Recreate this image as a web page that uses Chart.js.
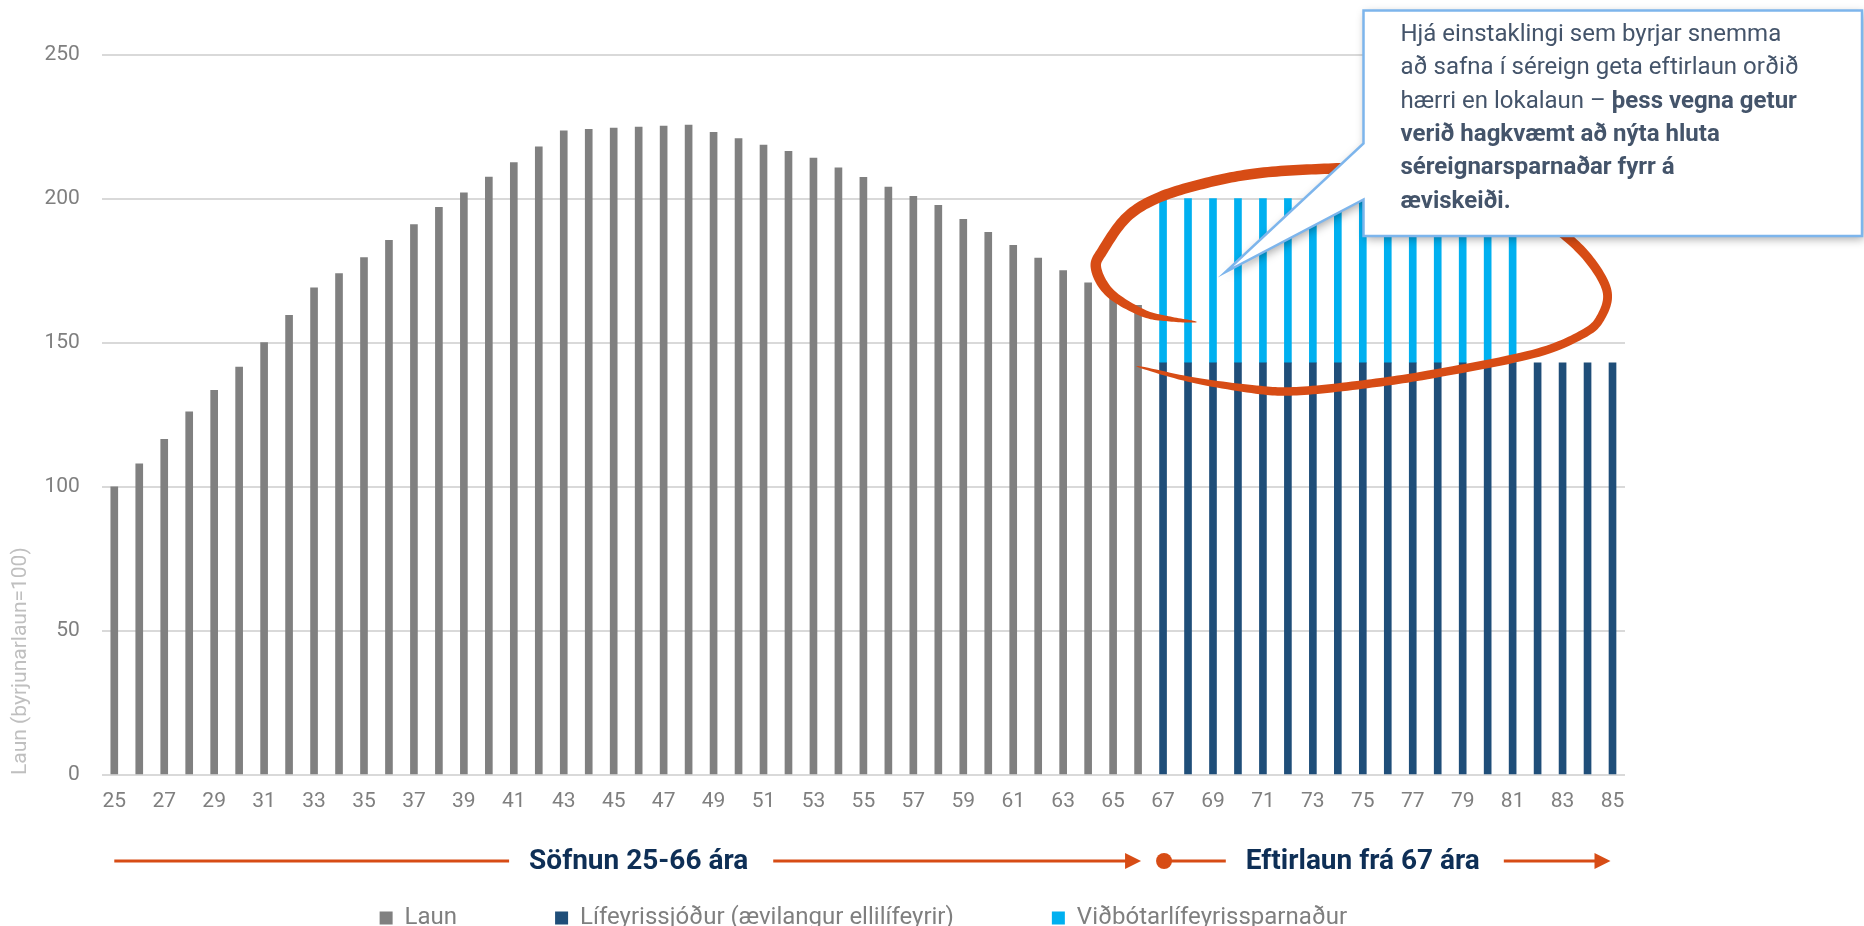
<!DOCTYPE html>
<html lang="is">
<head>
<meta charset="UTF-8">
<title>Laun og eftirlaun</title>
<script src="https://cdn.jsdelivr.net/npm/chart.js"></script>
<style>
  body { margin: 0; background: #fff; }
  #wrap { width: 1864px; height: 926px; }
</style>
</head>
<body>
<div id="wrap"><canvas id="launChart" width="1864" height="926"></canvas></div>
<script>
// Aldur (x-ás)
const ages = ['25','26','27','28','29','30','31','32','33','34','35','36','37','38','39','40',
  '41','42','43','44','45','46','47','48','49','50','51','52','53','54','55','56','57','58',
  '59','60','61','62','63','64','65','66','67','68','69','70','71','72','73','74','75','76',
  '77','78','79','80','81','82','83','84','85'];

// Laun 25-66 ára (byrjunarlaun = 100)
const laun = [100, 108, 116.5, 126, 133.5, 141.5, 150, 159.5, 169, 174, 179.5, 185.5, 191, 197,
  202, 207.5, 212.5, 218, 223.5, 224, 224.5, 224.8, 225.2, 225.5, 223, 220.8, 218.6, 216.4,
  214.1, 210.7, 207.4, 204, 200.8, 197.7, 192.8, 188.3, 183.8, 179.4, 175, 170.8, 166.8, 163,
  null, null, null, null, null, null, null, null, null, null, null, null, null, null, null,
  null, null, null, null];

// Ævilangur ellilífeyrir frá 67 ára
const lifeyrir = [null, null, null, null, null, null, null, null, null, null, null, null, null,
  null, null, null, null, null, null, null, null, null, null, null, null, null, null, null,
  null, null, null, null, null, null, null, null, null, null, null, null, null, null,
  143, 143, 143, 143, 143, 143, 143, 143, 143, 143, 143, 143, 143, 143, 143, 143, 143, 143, 143];

// Viðbótarsparnaður ofan á lífeyri, 67-81 ára
const vidbot = [null, null, null, null, null, null, null, null, null, null, null, null, null,
  null, null, null, null, null, null, null, null, null, null, null, null, null, null, null,
  null, null, null, null, null, null, null, null, null, null, null, null, null, null,
  57, 57, 57, 57, 57, 57, 57, 57, 57, 57, 57, 57, 57, 57, 57, null, null, null, null];

const yTicks = [0, 50, 100, 150, 200, 250];

const ORANGE = '#d74c15';
const NAVY = '#0e2f56';

Chart.defaults.font.family = 'Roboto, "Noto Sans", sans-serif';

// hringurinn utan um séreignina, dreginn með mismunandi línubreidd
const loopPts = [[1197,322],[1170,319],[1143,313],[1110,293],[1096,268],[1103,250],[1127,217],
  [1160,197],[1210,182],[1260,173],[1320,169],[1380,168],[1450,173],[1508,193],[1556,228],
  [1588,258],[1607,291],[1601,317],[1583,334],[1533,354],[1433,374],[1367,384],[1300,391],
  [1260,390],[1193,380],[1136,366]];

function spline(pts, steps) {
  const out = [];
  for (let i = 0; i < pts.length - 1; i++) {
    const p0 = pts[Math.max(i - 1, 0)], p1 = pts[i], p2 = pts[i + 1], p3 = pts[Math.min(i + 2, pts.length - 1)];
    for (let s = 0; s < steps; s++) {
      const t = s / steps, t2 = t * t, t3 = t2 * t;
      const f = k => 0.5 * (2 * p1[k] + (p2[k] - p0[k]) * t + (2 * p0[k] - 5 * p1[k] + 4 * p2[k] - p3[k]) * t2 + (3 * p1[k] - p0[k] - 3 * p2[k] + p3[k]) * t3);
      out.push([f(0), f(1)]);
    }
  }
  out.push(pts[pts.length - 1]);
  return out;
}

function drawLoop(ctx) {
  const c = spline(loopPts, 14);
  const n = c.length, a = [], b = [];
  for (let i = 0; i < n; i++) {
    const p = c[Math.max(i - 1, 0)], q = c[Math.min(i + 1, n - 1)];
    const len = Math.hypot(q[0] - p[0], q[1] - p[1]) || 1;
    const nx = -(q[1] - p[1]) / len, ny = (q[0] - p[0]) / len;
    const u = i / (n - 1);
    // þykkast efst til vinstri, þynnist í endana
    const base = 10.5 - 2 * Math.min(1, Math.max(0, (u - 0.45) / 0.25));
    const w = base * Math.min(1, Math.pow(u / 0.14, 0.6), Math.pow((1 - u) / 0.08, 0.6)) / 2;
    a.push([c[i][0] + nx * w, c[i][1] + ny * w]);
    b.push([c[i][0] - nx * w, c[i][1] - ny * w]);
  }
  ctx.beginPath();
  ctx.moveTo(a[0][0], a[0][1]);
  a.forEach(p => ctx.lineTo(p[0], p[1]));
  b.reverse().forEach(p => ctx.lineTo(p[0], p[1]));
  ctx.closePath();
  ctx.fillStyle = ORANGE;
  ctx.fill();
}

// textabólan efst til hægri
const noteLines = [
  [['Hjá einstaklingi sem byrjar snemma', false]],
  [['að safna í séreign geta eftirlaun orðið', false]],
  [['hærri en lokalaun – ', false], ['þess vegna getur', true]],
  [['verið hagkvæmt að nýta hluta', true]],
  [['séreignarsparnaðar fyrr á', true]],
  [['æviskeiði.', true]]
];

function drawNote(ctx) {
  const L = 1363.5, T = 10.5, R = 1862, B = 236;
  ctx.save();
  ctx.beginPath();
  ctx.moveTo(L, T);
  ctx.lineTo(R, T);
  ctx.lineTo(R, B);
  ctx.lineTo(L, B);
  ctx.lineTo(L, 199.5);
  ctx.lineTo(1225.5, 272);
  ctx.lineTo(L, 143.5);
  ctx.closePath();
  ctx.shadowColor = 'rgba(0,0,0,0.35)';
  ctx.shadowBlur = 10;
  ctx.shadowOffsetX = 2;
  ctx.shadowOffsetY = 3;
  ctx.fillStyle = '#fff';
  ctx.fill();
  ctx.shadowColor = 'transparent';
  ctx.lineWidth = 2.5;
  ctx.strokeStyle = '#7db5ec';
  ctx.stroke();

  ctx.fillStyle = '#44546a';
  ctx.textBaseline = 'alphabetic';
  noteLines.forEach((line, i) => {
    let x = 1400.5;
    const y = 41 + i * 33.3;
    line.forEach(([txt, bold]) => {
      ctx.font = (bold ? 'bold ' : '') + '24px Roboto';
      ctx.fillText(txt, x, y);
      x += ctx.measureText(txt).width;
    });
  });
  ctx.restore();
}

// örvarnar undir x-ásnum
function drawPhases(chart) {
  const ctx = chart.ctx, xs = chart.scales.x;
  const y = chart.chartArea.bottom + 86;
  const px = age => xs.getPixelForValue(ages.indexOf(age));
  ctx.save();
  ctx.strokeStyle = ORANGE;
  ctx.fillStyle = ORANGE;
  ctx.lineWidth = 3;
  const seg = (x1, x2) => { ctx.beginPath(); ctx.moveTo(x1, y); ctx.lineTo(x2, y); ctx.stroke(); };
  const head = tip => { ctx.beginPath(); ctx.moveTo(tip, y); ctx.lineTo(tip - 16, y - 8); ctx.lineTo(tip - 16, y + 8); ctx.closePath(); ctx.fill(); };

  ctx.font = 'bold 28px Roboto';
  ctx.textBaseline = 'middle';
  ctx.textAlign = 'center';
  const t1 = 'Söfnun 25-66 ára', t2 = 'Eftirlaun frá 67 ára';
  const c1 = px('46'), c2 = px('75');
  const w1 = ctx.measureText(t1).width, w2 = ctx.measureText(t2).width;

  seg(px('25'), c1 - w1 / 2 - 20);
  seg(c1 + w1 / 2 + 25, px('66') + 3 - 14);
  head(px('66') + 3);
  ctx.beginPath();
  ctx.arc(px('67') + 1, y, 8, 0, Math.PI * 2);
  ctx.fill();
  seg(px('67') + 1, c2 - w2 / 2 - 20);
  seg(c2 + w2 / 2 + 24, px('85') - 2 - 14);
  head(px('85') - 2);

  ctx.fillStyle = NAVY;
  ctx.fillText(t1, c1, y + 1);
  ctx.fillText(t2, c2, y + 1);
  ctx.restore();
}

const overlays = {
  id: 'overlays',
  afterDatasetsDraw(chart) {
    drawLoop(chart.ctx);
    drawNote(chart.ctx);
  },
  afterDraw(chart) {
    drawPhases(chart);
  }
};

new Chart(document.getElementById('launChart'), {
  type: 'bar',
  data: {
    labels: ages,
    datasets: [
      { label: 'Laun', data: laun, backgroundColor: '#808080', barThickness: 7 },
      { label: 'Lífeyrissjóður (ævilangur ellilífeyrir)', data: lifeyrir, backgroundColor: '#1f4e79', barThickness: 7 },
      { label: 'Viðbótarlífeyrissparnaður', data: vidbot, backgroundColor: '#00b0f0', barThickness: 7 }
    ]
  },
  options: {
    responsive: false,
    animation: false,
    events: [],
    layout: { padding: { top: 54.5, right: 239, bottom: -14, left: 0 } },
    plugins: {
      legend: {
        position: 'bottom',
        fullSize: false,
        labels: { boxWidth: 13, boxHeight: 13, padding: 98, color: '#7f7f7f', font: { size: 24 } }
      },
      tooltip: { enabled: false }
    },
    scales: {
      x: {
        stacked: true,
        grid: { display: false, drawTicks: false },
        border: { display: false },
        ticks: {
          color: '#7f7f7f', font: { size: 21 }, padding: 14, autoSkip: false, maxRotation: 0,
          callback: (v, i) => (i % 2 === 0 ? ages[i] : '')
        },
        afterFit: s => { s.height = 33; }
      },
      y: {
        stacked: true,
        min: yTicks[0],
        max: yTicks[yTicks.length - 1],
        afterBuildTicks: s => { s.ticks = yTicks.map(v => ({ value: v })); },
        ticks: { color: '#7f7f7f', font: { size: 21 }, padding: 22 },
        grid: { color: '#d9d9d9', lineWidth: 2, drawTicks: false },
        border: { display: false },
        title: {
          display: true, text: 'Laun (byrjunarlaun=100)', align: 'start',
          color: '#bfbfbf', font: { size: 21 }, padding: { top: 8, bottom: 0 }
        },
        afterFit: s => { s.width = 101.8; }
      }
    }
  },
  plugins: [overlays]
});
</script>
</body>
</html>
